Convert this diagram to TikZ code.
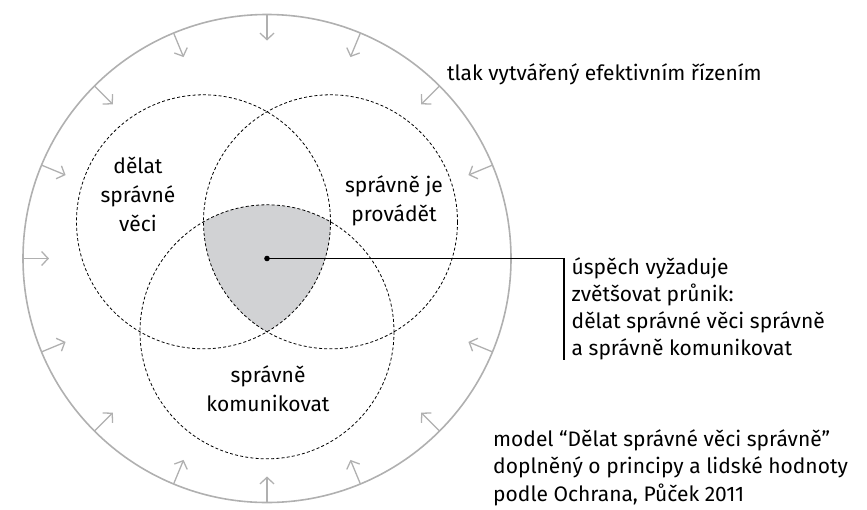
\documentclass[tikz,border=0pt]{standalone}
\usepackage{fontspec}
\setmainfont{Fira Sans}
\usetikzlibrary{arrows.meta,calc}
\definecolor{ringgray}{HTML}{B0B0B0}
\definecolor{capfill}{HTML}{D1D2D4}
\begin{document}
\begin{tikzpicture}[x=1pt,y=-1pt,
  ring/.style={draw=ringgray,line width=1.6pt},
  press/.style={draw=ringgray,line width=1.3pt,-{Straight Barb[length=6.5pt,width=14pt,line width=1.3pt]}},
  dashcirc/.style={draw=black,line width=0.8pt,dash pattern=on 3pt off 2.2pt},
  lbl/.style={font=\fontsize{21}{29}\selectfont,align=center,inner sep=0pt,anchor=base},
  note/.style={font=\fontsize{21}{26.7}\selectfont,align=left,inner sep=0pt,anchor=base west},
  srcnote/.style={note,font=\fontsize{21}{27.8}\selectfont}]
\useasboundingbox (0,0) rectangle (867,509);
\coordinate (C) at (267,258.5);
\coordinate (A) at (203.5,221.8);
\coordinate (B) at (330.5,221.8);
\coordinate (D) at (267,331.8);
% outer ring with inward pressure arrows
\draw[ring] (C) circle[radius=244];
\foreach \a in {22.5,45,...,337.5}{
  \draw[press] ($(C)+(\a:244)$) -- ($(C)+(\a:218)$);
}
% intersection fill
\begin{scope}
  \clip (A) circle[radius=127];
  \clip (B) circle[radius=127];
  \fill[capfill] (D) circle[radius=127];
\end{scope}
\draw[dashcirc] (A) circle[radius=127];
\draw[dashcirc] (B) circle[radius=127];
\draw[dashcirc] (D) circle[radius=127];
% labels (base anchor = baseline of last line)
\node[lbl] (la) at (138,231.5) {dělat\\správné\\věci};
\node[lbl] (lb) at (394,221) {správně je\\provádět};
\node[lbl] (ld) at (268,411.7) {správně\\komunikovat};
\node[note] (tl) at (447,80) {tlak vytvářený efektivním řízením};
% pointer
\fill (C) circle[radius=2.8pt];
\node[note] (succ) at (571.5,355) {úspěch vyžaduje\\zvětšovat průnik:\\dělat správné věci správně\\a správně komunikovat};
\coordinate (K) at (564,258.5);
\coordinate (KB) at (564,360);
\draw[line width=1.1pt] (C) -- (K) -- (KB);
\node[srcnote] (model) at (493,501.6) {model “Dělat správné věci správně”\\doplněný o principy a lidské hodnoty\\podle Ochrana, Půček 2011};
\end{tikzpicture}
\end{document}
